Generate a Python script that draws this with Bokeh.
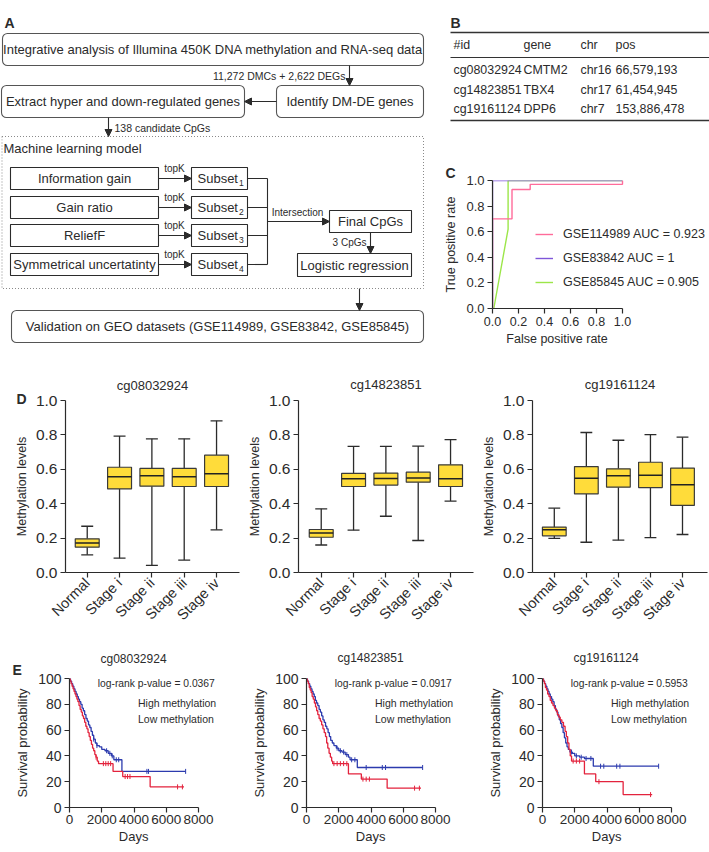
import numpy as np
from bokeh.plotting import figure
from bokeh.models import (Range1d, Label, Legend, LegendItem, Arrow, NormalHead,
                          FixedTicker, PrintfTickFormatter, Title)
from bokeh.layouts import row, column
from bokeh.embed import file_html
from bokeh.resources import INLINE
from bokeh.core.properties import value

FONT = "Liberation Sans"
INK = "#2b2b2b"
NBSP = "\u00a0"

# ---------------- Panel B: table ----------------
tbl_header = ["#id", "gene", "chr", "pos"]
tbl_id = ["cg08032924", "cg14823851", "cg19161124"]
tbl_gene = ["CMTM2", "TBX4", "DPP6"]
tbl_chr = ["chr16", "chr17", "chr7"]
tbl_pos = ["66,579,193", "61,454,945", "153,886,478"]

# ---------------- Panel C: ROC ----------------
roc_labels = ["GSE114989 AUC = 0.923", "GSE83842 AUC = 1", "GSE85845 AUC = 0.905"]
roc_colors = ["#ff6b9a", "#7f56d9", "#9ce649"]
roc1_fpr = [0, 0, 0.15, 0.15, 0.29, 0.29, 1.0, 1.0]
roc1_tpr = [0, 0.70, 0.70, 0.93, 0.93, 0.97, 0.97, 1.0]
roc2_fpr = [0, 0, 1.0]
roc2_tpr = [0, 1.0, 1.0]
roc3_fpr = [0.01, 0.12, 0.12, 1.0]
roc3_tpr = [0, 0.62, 1.0, 1.0]

# ---------------- Panel D: box plots ----------------
stages = ["Normal", "Stage i", "Stage ii", "Stage iii", "Stage iv"]
probes = ["cg08032924", "cg14823851", "cg19161124"]

d1_min = [0.103, 0.083, 0.041, 0.072, 0.248]
d1_q1 = [0.147, 0.486, 0.502, 0.500, 0.500]
d1_med = [0.171, 0.556, 0.562, 0.556, 0.574]
d1_q3 = [0.196, 0.612, 0.605, 0.605, 0.682]
d1_max = [0.269, 0.793, 0.777, 0.777, 0.882]

d2_min = [0.160, 0.246, 0.327, 0.186, 0.415]
d2_q1 = [0.205, 0.500, 0.508, 0.525, 0.500]
d2_med = [0.230, 0.545, 0.547, 0.550, 0.545]
d2_q3 = [0.250, 0.576, 0.578, 0.583, 0.626]
d2_max = [0.370, 0.733, 0.733, 0.735, 0.773]

d3_min = [0.198, 0.176, 0.188, 0.203, 0.221]
d3_q1 = [0.213, 0.457, 0.496, 0.494, 0.390]
d3_med = [0.248, 0.548, 0.562, 0.566, 0.510]
d3_q3 = [0.264, 0.616, 0.603, 0.641, 0.607]
d3_max = [0.374, 0.814, 0.769, 0.802, 0.787]

# ---------------- Panel E: Kaplan-Meier ----------------
km_pvals = ["log-rank p-value = 0.0367", "log-rank p-value = 0.0917", "log-rank p-value = 0.5953"]
km_groups = ["High methylation", "Low methylation"]

e1_hi_t = [0, 50, 100, 160, 220, 280, 340, 400, 460, 520, 590, 660, 730, 800, 870, 940, 1010, 1080,
           1150, 1220, 1290, 1360, 1430, 1500, 1570, 1640, 1720, 1800, 2700, 3300, 5000, 7100]
e1_hi_s = [100, 98, 96, 94, 92, 90, 88, 86, 84, 82, 79, 76, 74, 71, 69, 66, 63, 61,
           58, 55, 52, 49, 46, 44, 41, 39, 36, 34, 28, 24, 16, 16]
e1_lo_t = [0, 60, 130, 200, 270, 340, 410, 480, 550, 620, 700, 780, 860, 940, 1020, 1100, 1180, 1260,
           1340, 1420, 1500, 1600, 1700, 1850, 2000, 2200, 2400, 2600, 2750, 3250, 7200]
e1_lo_s = [100, 98, 96, 94, 92, 90, 88, 86, 84, 82, 80, 77, 75, 72, 69, 67, 64, 62,
           59, 56, 53, 50, 48, 47, 45, 44, 42, 40, 37, 28, 28]
e1_hi_cens = [1650, 2100, 2250, 2400, 2550, 3450, 3600, 3750, 6700, 7000]
e1_lo_cens = [1500, 1700, 2300, 2500, 2650, 2900, 3050, 4800, 4900, 7200]

e2_hi_t = [0, 50, 110, 170, 230, 290, 350, 420, 490, 560, 630, 700, 780, 860, 940, 1020, 1100, 1180,
           1250, 1320, 1400, 1480, 1560, 1620, 2600, 3400, 5000, 7100]
e2_hi_s = [100, 98, 96, 93, 91, 89, 86, 84, 81, 78, 75, 72, 69, 67, 64, 61, 58, 55,
           50, 46, 42, 39, 36, 34, 26, 22, 15, 15]
e2_lo_t = [0, 60, 130, 200, 270, 340, 410, 480, 550, 620, 700, 780, 860, 940, 1020, 1100, 1180, 1260,
           1340, 1420, 1500, 1600, 1700, 1850, 2000, 2200, 2400, 2600, 2700, 3150, 7200]
e2_lo_s = [100, 98, 96, 94, 92, 90, 88, 86, 83, 81, 79, 76, 74, 71, 68, 66, 63, 61,
           58, 55, 52, 50, 48, 46, 44, 43, 41, 39, 37, 31, 31]
e2_hi_cens = [1700, 1900, 2100, 2300, 2500, 3500, 3700, 3900, 6700, 7000]
e2_lo_cens = [1900, 2100, 2300, 2500, 2800, 3000, 3700, 4700, 4900, 7200]

e3_hi_t = [0, 60, 120, 180, 250, 320, 400, 480, 560, 650, 740, 830, 920, 1010, 1100, 1200, 1300,
           1400, 1480, 1560, 1640, 1720, 1800, 2600, 3300, 5000, 6800]
e3_hi_s = [100, 98, 96, 93, 91, 88, 86, 83, 81, 79, 77, 75, 72, 70, 68, 66, 63,
           59, 55, 50, 45, 40, 36, 26, 20, 10, 10]
e3_lo_t = [0, 60, 130, 200, 270, 340, 410, 480, 560, 640, 720, 800, 880, 960, 1040, 1120, 1200,
           1280, 1360, 1440, 1520, 1600, 1700, 1850, 2000, 2300, 2600, 3150, 7200]
e3_lo_s = [100, 98, 96, 94, 92, 90, 88, 86, 84, 82, 79, 76, 74, 71, 68, 65, 62,
           58, 54, 50, 47, 45, 43, 42, 40, 39, 38, 32, 32]
e3_hi_cens = [1900, 2100, 2300, 3500, 6700]
e3_lo_cens = [1800, 2100, 2400, 2700, 3000, 3600, 3800, 4600, 4800, 7200]

HI_COL = "#e3233d"
LO_COL = "#2c3bae"
BOX_FILL = "#ffdc3a"

# vertical extent (reference px) shown by each flowchart canvas
_YLIM = {}


# ---------------- helpers ----------------
def canvas(w, h, xr, yr):
    p = figure(width=w, height=h, x_range=Range1d(*xr), y_range=Range1d(*yr),
               x_axis_location=None, y_axis_location=None, toolbar_location=None,
               output_backend="svg", min_border=0, title=None)
    p.grid.visible = False
    p.outline_line_color = None
    _YLIM[id(p)] = (min(yr), max(yr))
    return p


def txt(p, x, y, s, size="12.5px", align="left", style="normal", color=INK):
    lo, hi = _YLIM.get(id(p), (-1e9, 1e9))
    if not (lo <= y < hi):
        return
    p.text(x=[x], y=[y], text=[s], text_font=value(FONT), text_font_size=size,
           text_align=align, text_baseline="middle", text_font_style=style, text_color=color)


def arrow(p, x0, y0, x1, y1):
    lo, hi = _YLIM.get(id(p), (-1e9, 1e9))
    if max(y0, y1) < lo or min(y0, y1) > hi:
        return
    p.add_layout(Arrow(end=NormalHead(size=7, fill_color=INK, line_color=INK, line_width=1),
                       x_start=x0, y_start=y0, x_end=x1, y_end=y1,
                       line_color=INK, line_width=1.1))


def style_axes(p, tick_size="14px", label_size="13px"):
    for ax in p.axis:
        ax.axis_line_color = INK
        ax.axis_line_width = 1.2
        ax.major_tick_line_color = INK
        ax.major_tick_line_width = 1.2
        ax.major_tick_in = 0
        ax.major_tick_out = 5
        ax.minor_tick_line_color = None
        ax.major_label_text_font = FONT
        ax.major_label_text_font_size = tick_size
        ax.major_label_text_color = INK
        ax.axis_label_text_font = FONT
        ax.axis_label_text_font_style = "normal"
        ax.axis_label_text_font_size = label_size
        ax.axis_label_text_color = INK
        ax.major_label_standoff = 3
        ax.axis_label_standoff = 5
    p.grid.visible = False
    p.outline_line_color = None


def letter_title(letter, offset, standoff):
    return Title(text=letter, align="left", offset=offset, standoff=standoff,
                 text_font=FONT, text_font_size="14px", text_font_style="bold",
                 text_color=INK)


def name_title(text, size, align, offset, standoff):
    return Title(text=text, align=align, offset=offset, standoff=standoff,
                 text_font=FONT, text_font_size=size, text_font_style="normal",
                 text_color=INK)


# ---------------- Panel A: flowchart (reference pixel units) ----------------
round_l = [2, 1, 276, 11]
round_r = [423, 244, 423, 423]
round_t = [33, 85, 85, 310]
round_b = [65, 117, 117, 342]
round_x = [212.5, 122.5, 349.5, 217]
round_txt = ["Integrative analysis of Illumina 450K DNA methylation and RNA-seq data",
             "Extract hyper and down-regulated genes", "Identify DM-DE genes",
             "Validation on GEO datasets (GSE114989, GSE83842, GSE85845)"]
methods = ["Information gain", "Gain ratio", "ReliefF", "Symmetrical uncertatinty"]
m_top = [167, 196, 224, 253]
m_bot = [189, 218, 246, 275]


def draw_flow(pa):
    txt(pa, 4, 22, "A", size="14px", style="bold")
    pa.quad(left=round_l, right=round_r, top=round_t, bottom=round_b, fill_color=None,
            line_color="#555555", line_width=1.1, border_radius=5)
    for x, t, b, s in zip(round_x, round_t, round_b, round_txt):
        txt(pa, x, (t + b) / 2, s, size="13px", align="center")
    pa.quad(left=[1.5], right=[423], top=[136], bottom=[288], fill_color=None,
            line_color="#8a8a8a", line_width=1, line_dash="1 2")
    txt(pa, 3, 148, "Machine learning model", size="13px")
    pa.quad(left=[10] * 4, right=[158] * 4, top=m_top, bottom=m_bot, fill_color=None,
            line_color=INK, line_width=1.1)
    pa.quad(left=[191] * 4, right=[247] * 4, top=m_top, bottom=m_bot, fill_color=None,
            line_color=INK, line_width=1.1)
    for i, (t, b) in enumerate(zip(m_top, m_bot)):
        cy = (t + b) / 2
        txt(pa, 84, cy, methods[i], size="13px", align="center")
        txt(pa, 197, cy, "Subset", size="13px")
        txt(pa, 238.5, cy + 4.5, str(i + 1), size="8.5px")
        arrow(pa, 158, cy, 191, cy)
        txt(pa, 174, cy - 10, "topK", size="10px", align="center")
        pa.segment(x0=[247], y0=[cy], x1=[267], y1=[cy], line_color=INK, line_width=1.1)
    pa.segment(x0=[267], y0=[178], x1=[267], y1=[264], line_color=INK, line_width=1.1)
    arrow(pa, 267, 221, 329, 221)
    txt(pa, 297, 212, "Intersection", size="10px", align="center")
    pa.quad(left=[329, 297], right=[411, 411], top=[210, 253], bottom=[232, 276],
            fill_color=None, line_color=INK, line_width=1.1)
    txt(pa, 370, 221, "Final CpGs", size="13px", align="center")
    txt(pa, 354, 264.5, "Logistic regression", size="13px", align="center")
    arrow(pa, 370, 232, 370, 253)
    txt(pa, 366, 242, "3 CpGs", size="10px", align="right")
    arrow(pa, 349, 65, 349, 85)
    txt(pa, 345, 75, "11,272 DMCs + 2,622 DEGs", size="10.5px", align="right")
    arrow(pa, 276, 101, 244, 101)
    arrow(pa, 108, 117, 108, 136)
    txt(pa, 114, 127, "138 candidate CpGs", size="10.5px")
    arrow(pa, 359, 288, 359, 310)


ptop = canvas(709, 140, (0, 709), (140, 0))
draw_flow(ptop)
pa2 = canvas(434, 222, (0, 434), (362, 140))
draw_flow(pa2)

# ---------------- Panel B: table (on the top canvas) ----------------
txt(ptop, 450, 22, "B", size="14px", style="bold")
ptop.segment(x0=[450, 450, 450], y0=[32, 57, 120], x1=[709] * 3, y1=[32, 57, 120],
             line_color="#333333", line_width=[1.6, 1.2, 1.6])
col_x = [453, 523, 580, 615]
for cx, h in zip(col_x, tbl_header):
    txt(ptop, cx, 44, h, size="12.4px")
row_y = [69, 89, 108]
for ry, a, b, c, d in zip(row_y, tbl_id, tbl_gene, tbl_chr, tbl_pos):
    for cx, s in zip(col_x, [a, b, c, d]):
        txt(ptop, cx, ry, s, size="12.4px")

# ---------------- Panel C: ROC ----------------
pc = figure(width=275, height=222, min_border_left=58, min_border_right=1,
            min_border_top=40, min_border_bottom=54, x_range=Range1d(0, 1.6615),
            y_range=Range1d(0, 1), toolbar_location=None, output_backend="svg",
            title=letter_title("C", -47, 0),
            x_axis_label="False positive rate" + NBSP * 25, y_axis_label="True positive rate")
r3 = pc.line(roc3_fpr, roc3_tpr, line_color=roc_colors[2], line_width=1.4)
r2 = pc.line(roc2_fpr, roc2_tpr, line_color=roc_colors[1], line_width=1.4)
r1 = pc.line(roc1_fpr, roc1_tpr, line_color=roc_colors[0], line_width=1.4)
style_axes(pc, tick_size="13px", label_size="12.5px")
pc.xaxis.bounds = (0, 1)
pc.xaxis.ticker = FixedTicker(ticks=[0, 0.2, 0.4, 0.6, 0.8, 1.0])
pc.yaxis.ticker = FixedTicker(ticks=[0, 0.2, 0.4, 0.6, 0.8, 1.0])
pc.xaxis.formatter = PrintfTickFormatter(format="%.1f")
pc.yaxis.formatter = PrintfTickFormatter(format="%.1f")
pc.xaxis.major_label_text_font_size = "12.5px"
pc.xaxis.axis_label_standoff = 3
leg = Legend(items=[LegendItem(label=roc_labels[0], renderers=[r1]),
                    LegendItem(label=roc_labels[1], renderers=[r2]),
                    LegendItem(label=roc_labels[2], renderers=[r3])],
             location=(43, 18), glyph_width=18, glyph_height=16, label_height=16,
             spacing=8, padding=0, margin=0, label_standoff=10,
             border_line_color=None, background_fill_alpha=0,
             label_text_font=FONT, label_text_font_size="12.5px", label_text_color=INK)
pc.add_layout(leg)


# ---------------- Panel D ----------------
def box_fig(name, mins, q1, med, q3, maxs, w, bl, xr, letter=None):
    p = figure(width=w, height=270, min_border_left=bl, min_border_right=w - bl - (175 if bl < 65 else 174),
               min_border_top=38, min_border_bottom=60, x_range=Range1d(*xr),
               y_range=Range1d(0, 1), toolbar_location=None, output_backend="svg",
               title=name_title(name, "13px", "center", 0, 4 if letter else 18),
               y_axis_label="Methylation levels")
    if letter:
        p.add_layout(letter_title(letter, -49, -12), "above")
    xs = list(range(1, len(stages) + 1))
    cw = 0.37
    p.segment(x0=xs, y0=mins, x1=xs, y1=q1, line_color=INK, line_width=1.3)
    p.segment(x0=xs, y0=q3, x1=xs, y1=maxs, line_color=INK, line_width=1.3)
    p.segment(x0=[x - cw / 2 for x in xs], y0=maxs, x1=[x + cw / 2 for x in xs], y1=maxs,
              line_color=INK, line_width=1.3)
    p.segment(x0=[x - cw / 2 for x in xs], y0=mins, x1=[x + cw / 2 for x in xs], y1=mins,
              line_color=INK, line_width=1.3)
    p.vbar(x=xs, width=0.74, bottom=q1, top=q3, fill_color=BOX_FILL, line_color="#3a3a3a",
           line_width=1.2)
    p.segment(x0=[x - 0.37 for x in xs], y0=med, x1=[x + 0.37 for x in xs], y1=med,
              line_color="#222222", line_width=1.5)
    style_axes(p, tick_size="15.5px", label_size="12.5px")
    p.xaxis.major_label_text_font_size = "14.5px"
    p.yaxis.ticker = FixedTicker(ticks=[0, 0.2, 0.4, 0.6, 0.8, 1.0])
    p.yaxis.formatter = PrintfTickFormatter(format="%.1f")
    p.xaxis.ticker = FixedTicker(ticks=xs)
    p.xaxis.major_label_overrides = {x: s for x, s in zip(xs, stages)}
    p.xaxis.major_label_orientation = np.pi / 4
    p.yaxis.axis_label_standoff = 4
    return p


pd1 = box_fig(probes[0], d1_min, d1_q1, d1_med, d1_q3, d1_max, 240, 65, (0.328, 5.71), "D")
pd2 = box_fig(probes[1], d2_min, d2_q1, d2_med, d2_q3, d2_max, 235, 58, (0.297, 5.71))
pd3 = box_fig(probes[2], d3_min, d3_q1, d3_med, d3_q3, d3_max, 234, 57, (0.32, 5.78))


# ---------------- Panel E ----------------
def km_fig(name, hi_t, hi_s, lo_t, lo_s, hi_c, lo_c, pval, w, bl, letter=None):
    p = figure(width=w, height=218, min_border_left=bl, min_border_right=w - bl - 150,
               min_border_top=46, min_border_bottom=43, x_range=Range1d(0, 9300),
               y_range=Range1d(0, 100), toolbar_location=None, output_backend="svg",
               title=name_title(name, "12px", "left", 31, -15 if letter else 27),
               x_axis_label="Days" + NBSP * 6, y_axis_label="Survival probability")
    if letter:
        p.add_layout(letter_title(letter, -57, 2), "above")
    p.step(x=lo_t, y=lo_s, mode="after", line_color=LO_COL, line_width=1.3)
    p.step(x=hi_t, y=hi_s, mode="after", line_color=HI_COL, line_width=1.3)
    hi_cs = [hi_s[int(np.searchsorted(hi_t, c, side="right")) - 1] for c in hi_c]
    lo_cs = [lo_s[int(np.searchsorted(lo_t, c, side="right")) - 1] for c in lo_c]
    p.scatter(x=lo_c, y=lo_cs, marker="dash", angle=np.pi / 2, size=5, line_color=LO_COL,
              line_width=1)
    p.scatter(x=hi_c, y=hi_cs, marker="dash", angle=np.pi / 2, size=5, line_color=HI_COL,
              line_width=1)
    lh = p.line(x=[], y=[], line_color=HI_COL, line_width=1.3)
    ll = p.line(x=[], y=[], line_color=LO_COL, line_width=1.3)
    leg = Legend(items=[LegendItem(label=km_groups[0], renderers=[lh]),
                        LegendItem(label=km_groups[1], renderers=[ll])],
                 location=(41, 82), glyph_width=18, glyph_height=12, label_height=12,
                 spacing=4, padding=0, margin=0, label_standoff=10,
                 border_line_color=None, background_fill_alpha=0,
                 label_text_font=FONT, label_text_font_size="10.5px", label_text_color=INK)
    p.add_layout(leg)
    p.add_layout(Label(x=1750, y=96, text=pval, text_font=FONT, text_font_size="10.3px",
                       text_baseline="middle", text_color=INK))
    style_axes(p, tick_size="14px", label_size="13px")
    p.xaxis.bounds = (0, 8000)
    p.xaxis.ticker = FixedTicker(ticks=[0, 2000, 4000, 6000, 8000])
    p.yaxis.ticker = FixedTicker(ticks=[0, 20, 40, 60, 80, 100])
    p.xaxis.major_label_text_font_size = "13.5px"
    p.xaxis.major_label_standoff = 2
    p.xaxis.axis_label_standoff = 2
    p.yaxis.axis_label_standoff = 5
    return p


pe1 = km_fig(probes[0], e1_hi_t, e1_hi_s, e1_lo_t, e1_lo_s, e1_hi_cens, e1_lo_cens,
             km_pvals[0], 240, 69, "E")
pe2 = km_fig(probes[1], e2_hi_t, e2_hi_s, e2_lo_t, e2_lo_s, e2_hi_cens, e2_lo_cens,
             km_pvals[1], 235, 66)
pe3 = km_fig(probes[2], e3_hi_t, e3_hi_s, e3_lo_t, e3_lo_s, e3_hi_cens, e3_lo_cens,
             km_pvals[2], 234, 67)

layout = column(ptop, row(column(pa2), pc), row(pd1, pd2, pd3), row(pe1, pe2, pe3))

open("out.html", "w").write(file_html(layout, INLINE))
